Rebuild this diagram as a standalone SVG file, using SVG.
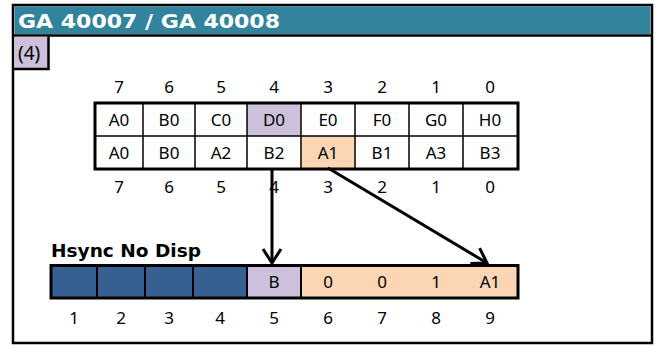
<svg xmlns="http://www.w3.org/2000/svg" width="659" height="345" viewBox="0 0 659 345">
<style>
.t{font-family:"Noto Sans","Open Sans","Liberation Sans",sans-serif;font-size:17px;fill:#000;text-anchor:middle}
.b{font-family:"DejaVu Sans","Liberation Sans",sans-serif;font-weight:bold}
.cell{stroke:#000;stroke-width:1.5}
.outer{fill:none;stroke:#000;stroke-width:3}
.conn{stroke:#000;stroke-width:3;fill:none}
</style>
<defs>
<marker id="arr" viewBox="-16 -12 20 24" markerWidth="20" markerHeight="24" refX="0" refY="0" orient="auto" markerUnits="userSpaceOnUse">
<path d="M-14,-9 L0,0 L-14,9" fill="none" stroke="#000" stroke-width="3"/>
</marker>
</defs>
<rect x="0" y="0" width="659" height="345" fill="#fff"/>
<g id="frame">
<rect x="13" y="5" width="639" height="338" fill="#fff" stroke="#000" stroke-width="2.5"/>
<rect x="14.5" y="6.2" width="636" height="28" fill="#31849B"/>
<line x1="13" y1="35.5" x2="652" y2="35.5" stroke="#000" stroke-width="2.5"/>
<text class="b" x="18" y="28" font-size="20" fill="#fff" textLength="262" lengthAdjust="spacingAndGlyphs">GA 40007 / GA 40008</text>
</g>
<g id="label4">
<path d="M14.3,36.8 H48 V68.5 H14.3 Z" fill="#CCC0DA"/>
<path d="M48.5,36.5 V69 H13" fill="none" stroke="#000" stroke-width="2.5"/>
<text class="t" x="18" y="60" style="text-anchor:start;font-size:19px">(4)</text>
</g>
<g id="bitsTop">
<text class="t" x="119" y="93">7</text><text class="t" x="169" y="93">6</text><text class="t" x="221" y="93">5</text><text class="t" x="274" y="93">4</text><text class="t" x="328" y="93">3</text><text class="t" x="382" y="93">2</text><text class="t" x="436" y="93">1</text><text class="t" x="490" y="93">0</text>
</g>
<g id="table">
<rect x="247" y="103" width="54" height="33" fill="#CCC0DA"/>
<rect x="301" y="136" width="54" height="33" fill="#FCD5B4"/>
<g class="cell">
<line x1="143" y1="103" x2="143" y2="169"/><line x1="195" y1="103" x2="195" y2="169"/><line x1="247" y1="103" x2="247" y2="169"/><line x1="301" y1="103" x2="301" y2="169"/><line x1="355" y1="103" x2="355" y2="169"/><line x1="409" y1="103" x2="409" y2="169"/><line x1="463" y1="103" x2="463" y2="169"/>
<line x1="95" y1="136" x2="518" y2="136"/>
</g>
<rect class="outer" x="95" y="103" width="423" height="66"/>
<text class="t" x="119" y="126">A0</text><text class="t" x="169" y="126">B0</text><text class="t" x="221" y="126">C0</text><text class="t" x="274" y="126">D0</text><text class="t" x="328" y="126">E0</text><text class="t" x="382" y="126">F0</text><text class="t" x="436" y="126">G0</text><text class="t" x="490" y="126">H0</text>
<text class="t" x="119" y="159">A0</text><text class="t" x="169" y="159">B0</text><text class="t" x="221" y="159">A2</text><text class="t" x="274" y="159">B2</text><text class="t" x="328" y="159">A1</text><text class="t" x="382" y="159">B1</text><text class="t" x="436" y="159">A3</text><text class="t" x="490" y="159">B3</text>
</g>
<g id="bitsBottom">
<text class="t" x="119" y="193">7</text><text class="t" x="169" y="193">6</text><text class="t" x="221" y="193">5</text><text class="t" x="274" y="193">4</text><text class="t" x="328" y="193">3</text><text class="t" x="382" y="193">2</text><text class="t" x="436" y="193">1</text><text class="t" x="490" y="193">0</text>
</g>
<g id="hsync">
<text class="b" x="51" y="257" font-size="17" textLength="150" lengthAdjust="spacingAndGlyphs">Hsync No Disp</text>
<rect x="51" y="265.5" width="196" height="32.5" fill="#366092"/>
<rect x="247" y="265.5" width="54" height="32.5" fill="#CCC0DA"/>
<rect x="301" y="265.5" width="217" height="32.5" fill="#FCD5B4"/>
<g stroke="#000" stroke-width="2">
<line x1="97" y1="265" x2="97" y2="298"/><line x1="145" y1="265" x2="145" y2="298"/><line x1="193" y1="265" x2="193" y2="298"/><line x1="247" y1="265" x2="247" y2="298"/><line x1="301" y1="265" x2="301" y2="298"/>
</g>
<rect class="outer" x="51" y="265.5" width="467" height="32.5"/>
<text class="t" x="274" y="288">B</text><text class="t" x="328" y="288">0</text><text class="t" x="382" y="288">0</text><text class="t" x="436" y="288">1</text><text class="t" x="490" y="288">A1</text>
<text class="t" x="74" y="324">1</text><text class="t" x="121" y="324">2</text><text class="t" x="169" y="324">3</text><text class="t" x="220" y="324">4</text><text class="t" x="274" y="324">5</text><text class="t" x="328" y="324">6</text><text class="t" x="382" y="324">7</text><text class="t" x="436" y="324">8</text><text class="t" x="490" y="324">9</text>
</g>
<g id="connectors">
<line class="conn" x1="272" y1="169" x2="272" y2="263" marker-end="url(#arr)"/>
<line class="conn" x1="328" y1="168" x2="487" y2="263" marker-end="url(#arr)"/>
</g>
</svg>
